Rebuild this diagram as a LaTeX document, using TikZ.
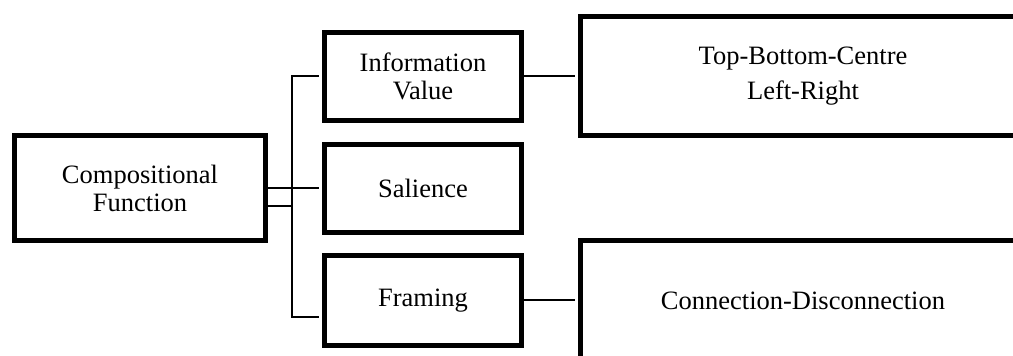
\documentclass[tikz,border=0pt]{standalone}
\usepackage{fontspec}
\setmainfont{Liberation Serif}
\begin{document}
\begin{tikzpicture}[x=1pt,y=1pt,
        box/.style={draw,line width=5pt,align=center,inner sep=0pt,font=\fontsize{26.5}{28}\selectfont},
        wire/.style={line width=2pt},
        link/.style={wire,shorten >=3.5pt}]
        \path[use as bounding box,clip](0,0)rectangle(1013,356);
        \node[box,minimum width=251,minimum height=105](CF)at(140,168){Compositional\\Function};
        \node[box,minimum width=197,minimum height=88](Info)at(423,279.5){Information\\Value};
        \node[box,minimum width=197,minimum height=88](Sal)at(423,167.5){Salience};
        \node[box,minimum width=197,minimum height=90](Frm)at(423,55.5){Framing};
        \node[box,minimum width=445,minimum height=119](TBC)at(803,280){Top-Bottom-Centre\\[7pt]Left-Right};
        \node[box,minimum width=445,minimum height=121](CD)at(803,55){Connection-Disconnection};
        \coordinate(bb)at(292,39);
        \draw[link](CF.east)--(CF.east-|Sal.west);
        \draw[wire]([yshift=-18]CF.east)--([yshift=-18]CF.east-|bb);
        \draw[link,shorten <=3.5pt](Info.west)-|(bb)--(bb-|Frm.west);
        \draw[link](Info.east)--(Info.east-|TBC.west);
        \draw[link](Frm.east)--(Frm.east-|CD.west);
    \end{tikzpicture}
\end{document}
